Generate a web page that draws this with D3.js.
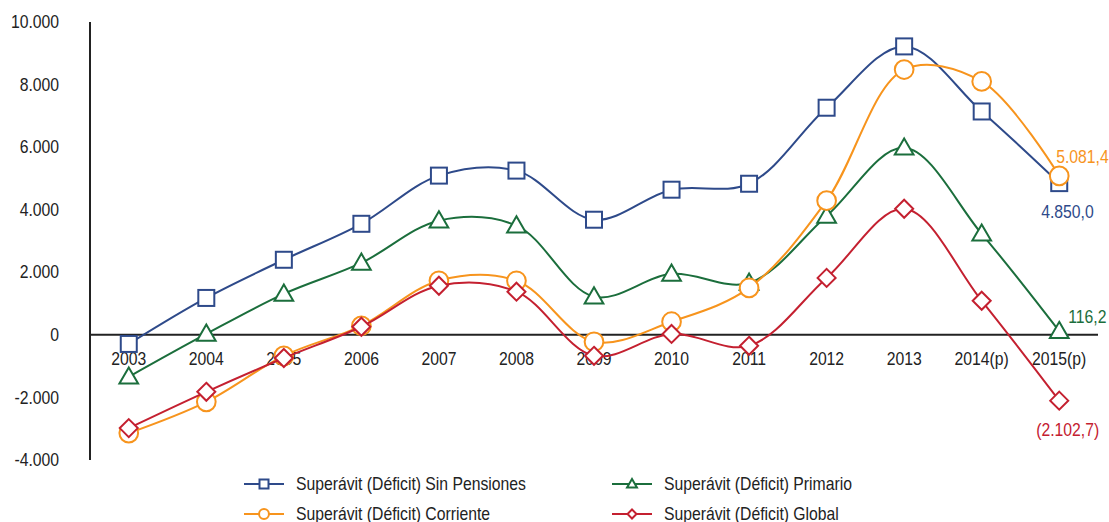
<!DOCTYPE html>
<html>
<head>
<meta charset="utf-8">
<script src="https://cdn.jsdelivr.net/npm/d3@7"></script>
<style>
  body { margin: 0; background: #fff; }
  text { font-family: "Liberation Sans", Arial, sans-serif; font-size: 17.5px; fill: #222; }
</style>
</head>
<body>
<div id="chart"></div>
<script>
// chart data
var years = ["2003", "2004", "2005", "2006", "2007", "2008", "2009", "2010", "2011", "2012", "2013", "2014(p)", "2015(p)"];
var sinPensiones = [-290, 1180, 2400, 3550, 5090, 5250, 3680, 4640, 4830, 7260, 9220, 7140, 4850.0];
var primario = [-1340, 30, 1310, 2300, 3650, 3490, 1220, 1950, 1660, 3800, 5980, 3230, 116.2];
var corriente = [-3140, -2140, -670, 290, 1730, 1730, -220, 420, 1500, 4290, 8480, 8100, 5081.4];
var global = [-2980, -1820, -740, 260, 1570, 1380, -670, 30, -350, 1820, 4030, 1090, -2102.7];
var yTicks = [10000, 8000, 6000, 4000, 2000, 0, -2000, -4000];
var endLabels = ["4.850,0", "116,2", "5.081,4", "(2.102,7)"];

var width = 1109, height = 522;
var mLeft = 90, mRight = 1098, mTop = 22, mBottom = 460;
var squeeze = 0.9; // the source font is a condensed one

var series = [
  {name: "Superávit (Déficit) Sin Pensiones", values: sinPensiones, color: "#2e4a8a", marker: "square", label: endLabels[0]},
  {name: "Superávit (Déficit) Primario", values: primario, color: "#1b6e3c", marker: "triangle", label: endLabels[1]},
  {name: "Superávit (Déficit) Corriente", values: corriente, color: "#f7941d", marker: "circle", label: endLabels[2]},
  {name: "Superávit (Déficit) Global", values: global, color: "#c42030", marker: "diamond", label: endLabels[3]}
];

var svg = d3.select("#chart").append("svg")
    .attr("width", width)
    .attr("height", height);

var x = d3.scalePoint()
    .domain(years)
    .range([mLeft, mRight])
    .padding(0.5);

var y = d3.scaleLinear()
    .domain([-4000, 10000])
    .range([mBottom, mTop]);

// spanish style numbers, plain hyphen for minus
var locale = d3.formatLocale({decimal: ",", thousands: ".", grouping: [3], currency: ["", ""], minus: "-"});
var fmt = locale.format(",");

// adds a horizontally squeezed text at (tx, ty)
function addText(parent, tx, ty, str, anchor, color) {
  return parent.append("text")
      .attr("transform", "translate(" + tx + "," + ty + ") scale(" + squeeze + ",1)")
      .attr("dy", "0.35em")
      .style("text-anchor", anchor || "start")
      .style("fill", color || "#222")
      .text(str);
}

// y axis
svg.append("line")
    .attr("x1", mLeft).attr("x2", mLeft)
    .attr("y1", mTop).attr("y2", mBottom)
    .attr("stroke", "#222").attr("stroke-width", 2);

yTicks.forEach(function(t) {
  addText(svg, 59, y(t), fmt(t), "end");
});

// zero line
svg.append("line")
    .attr("x1", mLeft).attr("x2", mRight)
    .attr("y1", y(0)).attr("y2", y(0))
    .attr("stroke", "#222").attr("stroke-width", 2);

years.forEach(function(yr) {
  addText(svg, x(yr), y(0) + 24, yr, "middle");
});

var line = d3.line()
    .x(function(d, i) { return x(years[i]); })
    .y(function(d) { return y(d); })
    .curve(d3.curveCatmullRom.alpha(0.5));

// draws a marker of the given kind, centered on 0,0
function drawMarker(g, kind, size, color) {
  var s = size;
  if (kind == "square") {
    g.append("rect").attr("x", -s).attr("y", -s).attr("width", 2 * s).attr("height", 2 * s);
  } else if (kind == "circle") {
    g.append("circle").attr("r", s * 1.1);
  } else if (kind == "triangle") {
    g.append("path").attr("d", "M0," + (-s * 1.1) + "L" + (s * 1.1) + "," + (s * 0.8) + "L" + (-s * 1.1) + "," + (s * 0.8) + "Z");
  } else {
    g.append("path").attr("d", "M0," + (-s) + "L" + s + ",0L0," + s + "L" + (-s) + ",0Z");
  }
  g.selectAll("*")
    .attr("fill", "#fff")
    .attr("stroke", color)
    .attr("stroke-width", 2);
}

var sizes = {square: 8, circle: 8.5, triangle: 8.5, diamond: 9};

series.forEach(function(s) {
  svg.append("path")
      .datum(s.values)
      .attr("d", line)
      .attr("fill", "none")
      .attr("stroke", s.color)
      .attr("stroke-width", 2);
  s.values.forEach(function(v, i) {
    var g = svg.append("g").attr("transform", "translate(" + x(years[i]) + "," + y(v) + ")");
    drawMarker(g, s.marker, sizes[s.marker], s.color);
  });
});

// labels on the last point
var last = years[years.length - 1];
var labelPos = [
  {dx: -18, dy: 29},
  {dx: 9, dy: -14},
  {dx: -3, dy: -19},
  {dx: -23, dy: 29}
];
series.forEach(function(s, k) {
  addText(svg, x(last) + labelPos[k].dx, y(s.values[s.values.length - 1]) + labelPos[k].dy, s.label, "start", s.color);
});

// legend
var legendX = [244, 612];
var legendY = [484, 514];
series.forEach(function(s, k) {
  var lx = legendX[k % 2], ly = legendY[Math.floor(k / 2)];
  var g = svg.append("g").attr("transform", "translate(" + lx + "," + ly + ")");
  g.append("line")
      .attr("x1", 0).attr("x2", 40)
      .attr("stroke", s.color).attr("stroke-width", 2);
  var m = g.append("g").attr("transform", "translate(20,0)");
  drawMarker(m, s.marker, 4.5, s.color);
  addText(g, 52, 0, s.name, "start");
});
</script>
</body>
</html>
